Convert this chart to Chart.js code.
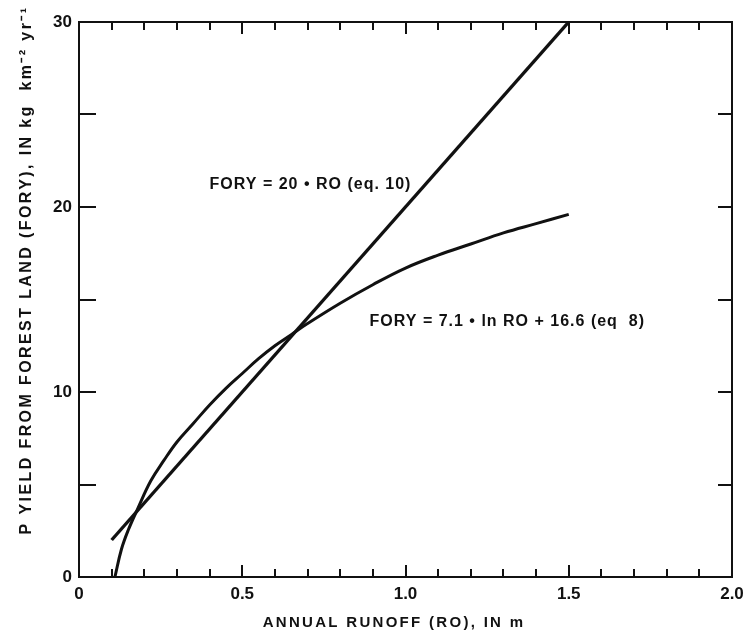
<!DOCTYPE html>
<html>
<head>
<meta charset="utf-8">
<title>P yield from forest land</title>
<script src="https://cdn.jsdelivr.net/npm/chart.js@4"></script>
<style>
  html, body { margin:0; padding:0; background:#fff; }
  #wrap { width:746px; height:638px; position:relative; }
</style>
</head>
<body>
<div id="wrap"><canvas id="chart"></canvas></div>
<script>
// ---- data ----
const LINE_RO   = [0.1, 1.5];
const LINE_FORY = [2, 30];

const CURVE_RO   = [0.11, 0.13, 0.15, 0.18, 0.22, 0.26, 0.3, 0.35, 0.4, 0.45, 0.5, 0.55, 0.6, 0.65, 0.7, 0.8, 0.9, 1.0, 1.1, 1.2, 1.3, 1.4, 1.5];
const CURVE_FORY = [0, 1.5, 2.5, 3.7, 5.2, 6.3, 7.3, 8.3, 9.3, 10.2, 11.0, 11.8, 12.5, 13.1, 13.7, 14.8, 15.8, 16.7, 17.4, 18.0, 18.6, 19.1, 19.6];

const X_TICKS = [0, 0.5, 1.0, 1.5, 2.0];
const X_MINOR = [0.1, 0.2, 0.3, 0.4, 0.6, 0.7, 0.8, 0.9, 1.1, 1.2, 1.3, 1.4, 1.6, 1.7, 1.8, 1.9];
const Y_TICKS = [0, 10, 20, 30];
const Y_MINOR = [5, 15, 25];

const X_TITLE = 'ANNUAL RUNOFF (RO), IN m';
const Y_TITLE = 'P YIELD FROM FOREST LAND (FORY), IN kg  km\u207B\u00B2 yr\u207B\u00B9';

const NOTES = [
  { text:'FORY = 20 \u2022 RO (eq. 10)',              ro:0.40, fory:21.2 },
  { text:'FORY = 7.1 \u2022 ln RO + 16.6 (eq  8)',     ro:0.89, fory:13.8 }
];

const INK = '#111';
const FONT = '"Liberation Sans", Arial, Helvetica, sans-serif';

const toPts = (xs, ys) => xs.map((x, i) => ({ x, y: ys[i] }));

// frame, inward ticks, titles and equations
const decor = {
  id:'decor',
  afterDraw(chart) {
    const { ctx, chartArea:a, scales:{ x, y } } = chart;
    ctx.save();
    ctx.strokeStyle = INK;
    ctx.lineWidth = 2;
    ctx.lineCap = 'butt';
    ctx.strokeRect(a.left, a.top, a.right - a.left, a.bottom - a.top);

    ctx.beginPath();
    X_TICKS.concat(X_MINOR).forEach(v => {
      const px = Math.round(x.getPixelForValue(v));
      const len = X_TICKS.includes(v) ? 12 : 8;
      ctx.moveTo(px, a.bottom); ctx.lineTo(px, a.bottom - len);
      ctx.moveTo(px, a.top);    ctx.lineTo(px, a.top + len);
    });
    Y_TICKS.concat(Y_MINOR).forEach(v => {
      const py = Math.round(y.getPixelForValue(v));
      ctx.moveTo(a.left, py);  ctx.lineTo(a.left + 17, py);
      ctx.moveTo(a.right, py); ctx.lineTo(a.right - 14, py);
    });
    ctx.stroke();

    ctx.fillStyle = INK;
    ctx.textBaseline = 'middle';

    // equations
    ctx.font = 'bold 16px ' + FONT;
    ctx.letterSpacing = '1px';
    ctx.textAlign = 'left';
    NOTES.forEach(n => {
      ctx.fillText(n.text, x.getPixelForValue(n.ro), y.getPixelForValue(n.fory));
    });

    // axis titles
    ctx.font = 'bold 15px ' + FONT;
    ctx.letterSpacing = '2.3px';
    ctx.textAlign = 'center';
    ctx.fillText(X_TITLE, 394, 623);

    ctx.font = 'bold 16px ' + FONT;
    ctx.letterSpacing = '2.4px';
    ctx.translate(27, 270);
    ctx.rotate(-Math.PI / 2);
    ctx.fillText(Y_TITLE, 0, 0);
    ctx.restore();
  }
};

new Chart(document.getElementById('chart'), {
  type:'scatter',
  data:{
    datasets:[
      { label:'FORY = 20 RO', data:toPts(LINE_RO, LINE_FORY), showLine:true,
        borderColor:INK, borderWidth:3.4, pointRadius:0 },
      { label:'FORY = 7.1 ln RO + 16.6', data:toPts(CURVE_RO, CURVE_FORY), showLine:true,
        borderColor:INK, borderWidth:3, pointRadius:0, tension:0.4 }
    ]
  },
  options:{
    responsive:true,
    maintainAspectRatio:false,
    animation:false,
    events:[],
    layout:{ padding:{ top:22, right:14, left:0, bottom:0 } },
    plugins:{ legend:{ display:false }, tooltip:{ enabled:false } },
    scales:{
      x:{
        type:'linear', min:0, max:2,
        afterBuildTicks: s => { s.ticks = X_TICKS.map(v => ({ value:v })); },
        afterFit: s => { s.height = 61; s.paddingLeft = 0; s.paddingRight = 0; },
        grid:{ display:false, drawTicks:false },
        border:{ display:false },
        ticks:{ color:INK, padding:7, maxRotation:0,
          font:{ family:FONT, size:17, weight:'bold' },
          callback: v => v === 0 ? '0' : v.toFixed(1) }
      },
      y:{
        type:'linear', min:0, max:30,
        afterBuildTicks: s => { s.ticks = Y_TICKS.map(v => ({ value:v })); },
        afterFit: s => { s.width = 79; s.paddingTop = 0; s.paddingBottom = 0; },
        grid:{ display:false, drawTicks:false },
        border:{ display:false },
        ticks:{ color:INK, padding:7,
          font:{ family:FONT, size:17, weight:'bold' } }
      }
    }
  },
  plugins:[decor]
});
</script>
</body>
</html>
